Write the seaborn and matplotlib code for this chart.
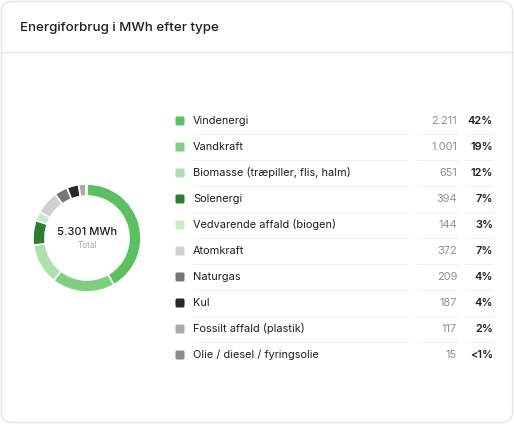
import matplotlib
matplotlib.use("Agg")
import matplotlib.pyplot as plt
import seaborn as sns
from matplotlib.patches import FancyBboxPatch

labels = ["Vindenergi", "Vandkraft", "Biomasse (træpiller, flis, halm)", "Solenergi",
          "Vedvarende affald (biogen)", "Atomkraft", "Naturgas", "Kul",
          "Fossilt affald (plastik)", "Olie / diesel / fyringsolie"]
values = [2211, 1001, 651, 394, 144, 372, 209, 187, 117, 15]
value_text = ["2.211", "1.001", "651", "394", "144", "372", "209", "187", "117", "15"]
pct_text = ["42%", "19%", "12%", "7%", "3%", "7%", "4%", "4%", "2%", "<1%"]
colors = ["#5cbf60", "#80cf80", "#ade0aa", "#2e7d32", "#c8ebc6", "#d0d0d0",
          "#767676", "#282828", "#a9a9a9", "#8b8b8b"]
total_text = "5.301 MWh"
title = "Energiforbrug i MWh efter type"

sns.set_theme(style="white")
plt.rcParams["font.family"] = ["Inter", "DejaVu Sans"]

W, H = 514, 424
fig = plt.figure(figsize=(W / 100, H / 100), dpi=100)
fig.patch.set_facecolor("white")

# overlay axes in pixel coordinates
bg = fig.add_axes([0, 0, 1, 1])
bg.set_xlim(0, W)
bg.set_ylim(H, 0)
bg.axis("off")

card = FancyBboxPatch((1.5, 1.5), W - 3, H - 3, boxstyle="round,pad=0,rounding_size=10",
                      facecolor="white", edgecolor="#e4e4e4", linewidth=1)
bg.add_patch(card)
bg.plot([1.5, W - 1.5], [51.5, 51.5], color="#e8e8e8", lw=1)
bg.text(20, 28, title, fontsize=9.6, color="#1e1e1e", va="center", ha="left", fontweight="medium")

# donut
cx, cy, r = 87, 238, 54
pie_ax = fig.add_axes([(cx - r) / W, (H - cy - r) / H, 2 * r / W, 2 * r / H])
pie_ax.pie(values, colors=colors, startangle=90, counterclock=False, radius=1,
           wedgeprops=dict(width=12 / 54, edgecolor="white", linewidth=1.2))
pie_ax.set_xlim(-1, 1)
pie_ax.set_ylim(-1, 1)
pie_ax.set_aspect("equal")
pie_ax.axis("off")
bg.text(cx, 232, total_text, fontsize=8, color="#1e1e1e", ha="center", va="center", fontweight="medium")
bg.text(cx, 246, "Total", fontsize=6, color="#a8a8a8", ha="center", va="center")

# legend table
y0, step = 121, 26
for i, lab in enumerate(labels):
    y = y0 + i * step
    bg.add_patch(FancyBboxPatch((175.5, y - 4.5), 9, 9, boxstyle="round,pad=0,rounding_size=1.5",
                                facecolor=colors[i], edgecolor="none"))
    bg.text(193, y, lab, fontsize=7.9, color="#1e1e1e", va="center", ha="left")
    bg.text(457, y, value_text[i], fontsize=7.9, color="#8e8e8e", va="center", ha="right")
    bg.text(493, y, pct_text[i], fontsize=7.9, color="#1e1e1e", va="center", ha="right",
            fontweight="semibold")
    if i < len(labels) - 1:
        ly = y + 12.5
        for x1, x2 in [(193, 408), (417, 457), (465, 493)]:
            bg.plot([x1, x2], [ly, ly], color="#f0f0f0", lw=0.8)

fig.savefig("out.png", dpi=100, facecolor="white")
